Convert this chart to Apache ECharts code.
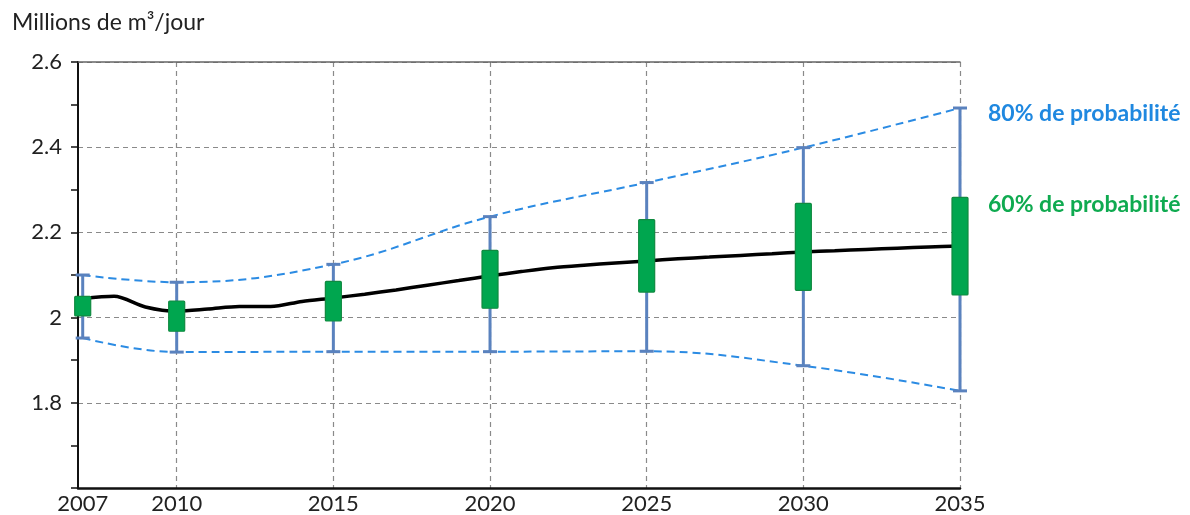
<!DOCTYPE html>
<html>
<head>
<meta charset="utf-8">
<script src="https://cdn.jsdelivr.net/npm/echarts@6/dist/echarts.min.js"></script>
<style>
  html, body { margin: 0; padding: 0; background: #fff; }
  #chart { width: 1190px; height: 515px; }
</style>
</head>
<body>
<div id="chart"></div>
<script>
// annual central forecast
const years = [2007, 2008, 2009, 2010, 2011, 2012, 2013, 2014, 2015, 2016, 2017, 2018, 2019, 2020,
  2021, 2022, 2023, 2024, 2025, 2026, 2027, 2028, 2029, 2030, 2031, 2032, 2033, 2034, 2035];
const central = [2.045, 2.05, 2.025, 2.015, 2.02, 2.026, 2.026, 2.038, 2.046, 2.055, 2.065, 2.076, 2.087, 2.098,
  2.108, 2.117, 2.123, 2.128, 2.133, 2.138, 2.142, 2.146, 2.15, 2.154, 2.157, 2.16, 2.163, 2.166, 2.168];

// range markers
const markYears = [2007, 2010, 2015, 2020, 2025, 2030, 2035];
const p80Low = [1.952, 1.919, 1.92, 1.92, 1.921, 1.887, 1.828];
const p80High = [2.1, 2.083, 2.125, 2.237, 2.317, 2.399, 2.492];
const p60Low = [2.004, 1.968, 1.992, 2.022, 2.06, 2.064, 2.053];
const p60High = [2.05, 2.039, 2.085, 2.158, 2.23, 2.268, 2.282];

const xLabels = [2007, 2010, 2015, 2020, 2025, 2030, 2035];
const xGrid = [2010, 2015, 2020, 2025, 2030, 2035];

const font = 'Lato, "Open Sans", sans-serif';
const chart = echarts.init(document.getElementById('chart'));

const whiskers = markYears.map((y, i) => [y, p80Low[i], p80High[i]]);
const boxes = markYears.map((y, i) => [y, p60Low[i], p60High[i]]);

chart.setOption({
  animation: false,
  title: {
    text: 'Millions de m³/jour',
    left: 7, top: 6,
    textStyle: { fontFamily: font, fontSize: 23, fontWeight: 'normal', color: '#222' }
  },
  grid: { left: 78, right: 230, top: 62, bottom: 26 },
  xAxis: [{
    type: 'value',
    min: 2006.85, max: 2035,
    axisLine: { lineStyle: { color: '#111', width: 2.5 } },
    axisTick: { show: false, customValues: xGrid },
    axisLabel: {
      customValues: xLabels,
      formatter: (v) => String(v),
      fontFamily: font, fontSize: 22, color: '#222', margin: 5
    },
    splitLine: { show: true, lineStyle: { color: '#8a8a8a', type: [5, 4], width: 1.2 } }
  }, {
    type: 'value',
    position: 'top',
    min: 2006.85, max: 2035,
    axisLine: { show: true, lineStyle: { color: '#666', width: 1.5 } },
    axisTick: { show: false },
    axisLabel: { show: false },
    splitLine: { show: false }
  }],
  yAxis: {
    type: 'value',
    min: 1.6, max: 2.6, interval: 0.2,
    axisLine: { show: true, lineStyle: { color: '#111', width: 2 } },
    axisTick: { show: true, inside: false, length: 7, lineStyle: { color: '#111', width: 1.5 } },
    minorTick: { show: true, splitNumber: 2, length: 7, lineStyle: { color: '#111', width: 1.5 } },
    axisLabel: {
      formatter: (v) => (Math.abs(v - 1.6) < 1e-6 ? '' : String(+v.toFixed(1))),
      fontFamily: font, fontSize: 22, color: '#222', margin: 16
    },
    splitLine: { show: true, lineStyle: { color: '#8a8a8a', type: [5, 4], width: 1.2 } }
  },
  series: [
    {
      type: 'line', z: 1, smooth: 0.4, showSymbol: false, silent: true,
      data: markYears.map((y, i) => [y, p80High[i]]),
      lineStyle: { color: '#2B8BE3', width: 2, type: [8, 5] }
    },
    {
      type: 'line', z: 1, smooth: 0.4, showSymbol: false, silent: true,
      data: markYears.map((y, i) => [y, p80Low[i]]),
      lineStyle: { color: '#2B8BE3', width: 2, type: [8, 5] }
    },
    {
      type: 'custom', z: 2, silent: true,
      data: whiskers,
      renderItem: (params, api) => {
        const lo = api.coord([api.value(0), api.value(1)]);
        const hi = api.coord([api.value(0), api.value(2)]);
        const style = { stroke: '#5A82BE', lineWidth: 3 };
        return {
          type: 'group',
          children: [
            { type: 'line', shape: { x1: lo[0], y1: lo[1], x2: hi[0], y2: hi[1] }, style },
            { type: 'line', shape: { x1: lo[0] - 7, y1: lo[1], x2: lo[0] + 7, y2: lo[1] }, style },
            { type: 'line', shape: { x1: hi[0] - 7, y1: hi[1], x2: hi[0] + 7, y2: hi[1] }, style }
          ]
        };
      }
    },
    {
      type: 'line', z: 3, smooth: 0.3, showSymbol: false, silent: true,
      data: years.map((y, i) => [y, central[i]]),
      lineStyle: { color: '#000', width: 3.5 }
    },
    {
      type: 'custom', z: 4, silent: true,
      data: boxes,
      renderItem: (params, api) => {
        const lo = api.coord([api.value(0), api.value(1)]);
        const hi = api.coord([api.value(0), api.value(2)]);
        return {
          type: 'rect',
          shape: { x: lo[0] - 8, y: hi[1], width: 16, height: lo[1] - hi[1], r: 1 },
          style: { fill: '#00A64F', stroke: '#108A40', lineWidth: 1.2 }
        };
      }
    }
  ],
  graphic: [
    {
      type: 'text', left: 988, top: 102,
      style: { text: '80% de probabilité', fill: '#1F88E0', font: 'bold 23px ' + font }
    },
    {
      type: 'text', left: 988, top: 193,
      style: { text: '60% de probabilité', fill: '#0FAA50', font: 'bold 23px ' + font }
    }
  ]
});
</script>
</body>
</html>
